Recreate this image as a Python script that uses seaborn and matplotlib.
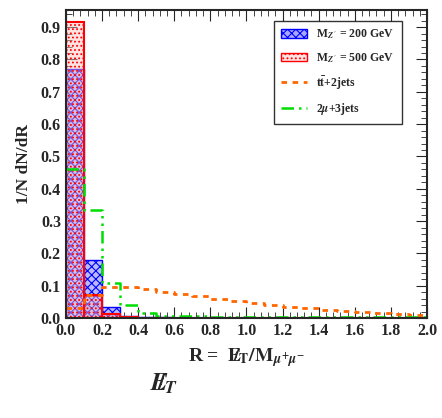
import pandas as pd
import matplotlib
matplotlib.use("Agg")
import matplotlib.pyplot as plt
import seaborn as sns
from matplotlib.patches import Patch
from matplotlib.lines import Line2D
from matplotlib.ticker import MultipleLocator, FormatStrFormatter

edges = [round(0.1 * i, 2) for i in range(21)]
centers = [round(0.1 * i + 0.05, 3) for i in range(20)]

z200 = [0.77, 0.18, 0.035, 0.008, 0.004, 0.002, 0.001, 0.001, 0.0005, 0.0005,
        0, 0, 0, 0, 0, 0, 0, 0, 0, 0]
z500 = [0.915, 0.072, 0.012, 0.003, 0.001, 0.0005, 0.0003, 0, 0, 0,
        0, 0, 0, 0, 0, 0, 0, 0, 0, 0]
ttbar = [0.03, 0.072, 0.095, 0.095, 0.09, 0.082, 0.076, 0.068, 0.06, 0.052,
         0.046, 0.04, 0.035, 0.03, 0.026, 0.022, 0.018, 0.015, 0.012, 0.01]
mumu = [0.46, 0.335, 0.11, 0.04, 0.015, 0.008, 0.006, 0.005, 0.004, 0.004,
        0.003, 0.003, 0.003, 0.003, 0.002, 0.002, 0.002, 0.002, 0.002, 0.002]

df = pd.DataFrame({'R': centers, 'z200': z200, 'z500': z500,
                   'ttbar': ttbar, 'mumu': mumu})

sns.set_style("ticks")
plt.rcParams['font.family'] = ['Liberation Serif', 'DejaVu Serif']
plt.rcParams['font.weight'] = 'bold'
plt.rcParams['mathtext.fontset'] = 'stix'
plt.rcParams['hatch.linewidth'] = 0.8

fig = plt.figure(figsize=(4.42, 4.18), dpi=100)
ax = fig.add_axes([0.149, 0.239, 0.817, 0.737])

sns.histplot(data=df, x='R', weights='z200', bins=edges, ax=ax, element='bars',
             color='#a8a8ff', alpha=0.8, edgecolor='blue', linewidth=1)
for p in ax.patches:
    p.set_hatch('xxxx')
n_blue = len(ax.patches)
sns.histplot(data=df, x='R', weights='z500', bins=edges, ax=ax, element='bars',
             color='#ffc0c0', alpha=0.45, edgecolor='red', linewidth=1.5)
for p in ax.patches[n_blue:]:
    p.set_hatch('....')
    p.set_edgecolor('red')
sns.histplot(data=df, x='R', weights='ttbar', bins=edges, ax=ax, element='step',
             fill=False, color='#ff6600', linestyle=(0, (2, 2)), linewidth=2)
sns.histplot(data=df, x='R', weights='mumu', bins=edges, ax=ax, element='step',
             fill=False, color='#00dd00', linestyle=(0, (5, 2, 1, 2, 1, 2)), linewidth=1.8)

ax.set_xlim(0, 2.0)
ax.set_ylim(0, 0.953)
ax.xaxis.set_major_locator(MultipleLocator(0.2))
ax.xaxis.set_minor_locator(MultipleLocator(0.04))
ax.yaxis.set_major_locator(MultipleLocator(0.1))
ax.yaxis.set_minor_locator(MultipleLocator(0.02))
ax.tick_params(which='both', direction='in', top=True, right=True, labelsize=11.5)
ax.tick_params(which='major', length=8)
ax.tick_params(which='minor', length=4)
for s in ax.spines.values():
    s.set_linewidth(1.5)
ax.xaxis.set_major_formatter(FormatStrFormatter('%.1f'))
ax.yaxis.set_major_formatter(FormatStrFormatter('%.1f'))
ax.set_ylabel('1/N dN/dR', fontsize=12.5, fontweight='bold', labelpad=6)
ax.set_xlabel(r'R =  $\mathbf{E\!\!\!/_{T}/M}_{\mu^{+}\mu^{-}}$', fontsize=14,
              fontweight='bold', labelpad=5)

handles = [
    Patch(facecolor='#a8a8ff', edgecolor='blue', hatch='xxxx', label=r"M$_{Z^{\prime}}$ = 200 GeV"),
    Patch(facecolor=(1, 0.75, 0.75, 0.45), edgecolor='red', hatch='....', label=r"M$_{Z^{\prime}}$ = 500 GeV"),
    Line2D([], [], color='#ff6600', linestyle=(0, (2, 2)), linewidth=2, label=r't$\bar{\rm t}$+2jets'),
    Line2D([], [], color='#00dd00', linestyle=(0, (5, 2, 1, 2, 1, 2)), linewidth=1.8, label=r'2$\mu$+3jets'),
]
leg = ax.legend(handles=handles, loc='upper left', bbox_to_anchor=(0.56, 0.985),
                fontsize=8.5, frameon=True, fancybox=False, edgecolor='black',
                borderpad=0.6, labelspacing=0.8, handlelength=2.2)
leg.get_frame().set_linewidth(1)

fig.text(0.34, 0.065, r'$E\!\!\!/_T$', fontsize=18)

fig.savefig('out.png', dpi=100)
